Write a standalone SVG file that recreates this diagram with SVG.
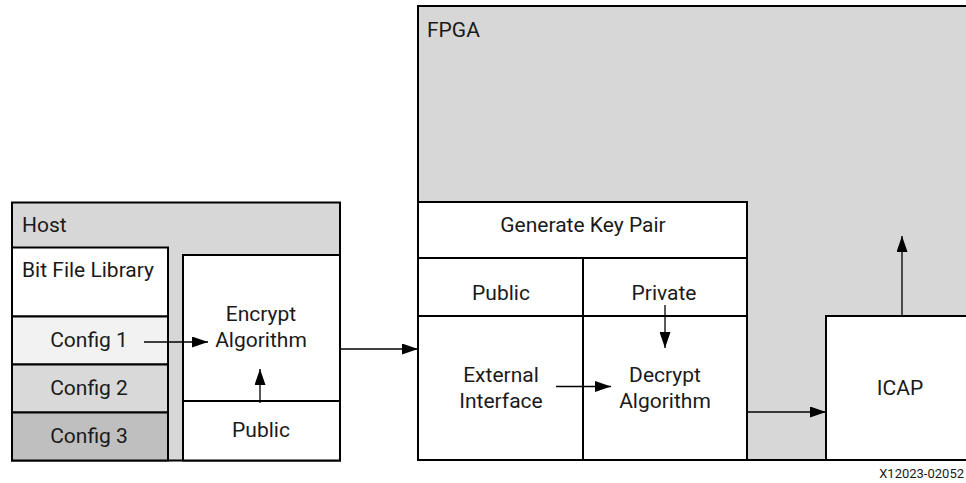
<svg xmlns="http://www.w3.org/2000/svg" width="966" height="483" viewBox="0 0 966 483">
<defs>
<marker id="ah" viewBox="0 0 16 11" refX="16" refY="5.5" markerWidth="16" markerHeight="11" markerUnits="userSpaceOnUse" orient="auto">
<path d="M0,0 L16,5.5 L0,11 Z" fill="#000"/>
</marker>
<style>
.b{stroke:#000;stroke-width:2}
.w{fill:#fff}
.g{fill:#d7d7d7}
.t{font-family:Roboto,"Liberation Sans",sans-serif;font-size:21px;fill:#1a1a1a}
.m{text-anchor:middle}
.c{stroke:#000;stroke-width:1.3;fill:none;marker-end:url(#ah)}
</style>
</defs>
<rect width="966" height="483" fill="#fff"/>
<g id="host">
<rect class="b g" x="12" y="202.5" width="328" height="258"/>
<text class="t" x="22" y="232">Host</text>
</g>
<g id="bitfilelibrary">
<rect class="b w" x="12" y="247.5" width="156" height="69"/>
<text class="t" x="22" y="277">Bit File Library</text>
</g>
<g id="config1">
<rect class="b" fill="#f2f2f2" x="12" y="316.5" width="156" height="48"/>
<text class="t m" x="89" y="347">Config 1</text>
</g>
<g id="config2">
<rect class="b" fill="#d9d9d9" x="12" y="364.5" width="156" height="48"/>
<text class="t m" x="89" y="395">Config 2</text>
</g>
<g id="config3">
<rect class="b" fill="#bfbfbf" x="12" y="412.5" width="156" height="48"/>
<text class="t m" x="89" y="443">Config 3</text>
</g>
<g id="encrypt">
<rect class="b w" x="183" y="255" width="157" height="146"/>
<text class="t m" x="261" y="321">Encrypt</text>
<text class="t m" x="261" y="347">Algorithm</text>
</g>
<g id="hostpublic">
<rect class="b w" x="183" y="401" width="157" height="59.5"/>
<text class="t m" x="261" y="437">Public</text>
</g>
<g id="fpga">
<rect class="b g" x="418" y="6" width="560" height="454"/>
<text class="t" x="427" y="37">FPGA</text>
</g>
<g id="genkey">
<rect class="b w" x="418" y="202" width="329" height="56"/>
<text class="t m" x="583" y="232">Generate Key Pair</text>
</g>
<g id="fpgapublic">
<rect class="b w" x="418" y="258" width="165" height="58"/>
<text class="t m" x="501" y="300">Public</text>
</g>
<g id="private">
<rect class="b w" x="583" y="258" width="164" height="58"/>
<text class="t m" x="664" y="300">Private</text>
</g>
<g id="external">
<rect class="b w" x="418" y="316" width="165" height="144"/>
<text class="t m" x="501" y="382">External</text>
<text class="t m" x="501" y="408">Interface</text>
</g>
<g id="decrypt">
<rect class="b w" x="583" y="316" width="164" height="144"/>
<text class="t m" x="665" y="382">Decrypt</text>
<text class="t m" x="665" y="408">Algorithm</text>
</g>
<g id="icap">
<rect class="b w" x="826" y="316" width="160" height="144"/>
<text class="t m" x="900" y="395">ICAP</text>
</g>
<g id="connectors">
<line class="c" x1="144" y1="342" x2="208" y2="342"/>
<line class="c" x1="260" y1="403" x2="260" y2="369"/>
<line class="c" x1="340" y1="349" x2="418" y2="349"/>
<line class="c" x1="665" y1="305" x2="665" y2="348"/>
<line class="c" x1="556" y1="386.5" x2="611" y2="386.5"/>
<line class="c" x1="747" y1="412" x2="826" y2="412"/>
<line class="c" x1="902" y1="316" x2="902" y2="236"/>
</g>
<text x="964" y="478" style="font-family:Roboto,'Liberation Sans',sans-serif;font-size:13px;fill:#1a1a1a;text-anchor:end">X12023-02052</text>
</svg>
